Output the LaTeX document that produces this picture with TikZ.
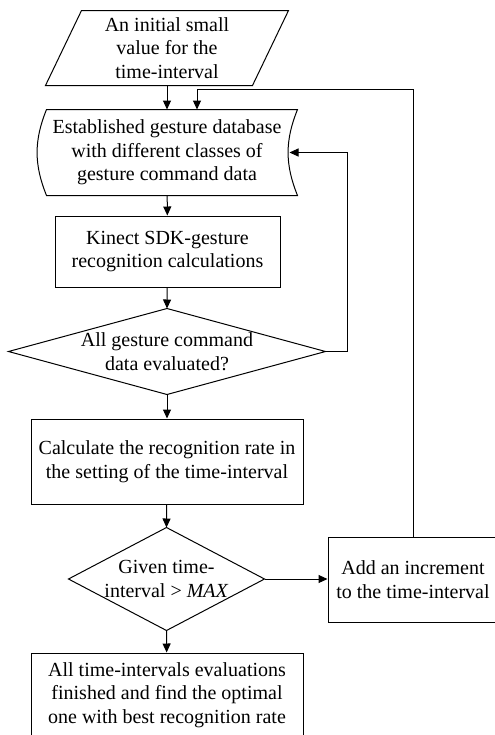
\documentclass[tikz,border=0pt]{standalone}
\usepackage{fontspec}
\setmainfont{Liberation Serif}
\usepackage{tikz}
\usetikzlibrary{arrows.meta,calc,shapes}
\tikzset{>={Triangle[length=4.5pt,width=4pt]}}
\tikzset{
  txt/.style={align=center, inner sep=0pt, font=\fontsize{10}{11.75}\selectfont},
  box/.style={txt, draw, rectangle},
}

\begin{document}
\begin{tikzpicture}[x=0.5pt, y=-0.5pt, line width=0.5pt]
    \useasboundingbox (0,0) rectangle (494,735);

    % input: parallelogram round a bare node
    \node at (167,48) [txt, minimum width=103pt, minimum height=37pt](init){An initial small\\value for the\\time-interval};
    \draw ([xshift=9pt]init.north west) -- ([xshift=9pt]init.north east) -- ([xshift=-9pt]init.south east) -- ([xshift=-9pt]init.south west) -- cycle;

    % stored data
    \node at (167,152.5) [txt, minimum width=125pt, minimum height=42.5pt](db){Established gesture database\\with different classes of\\gesture command data};
    \draw ([xshift=2.5pt]db.north west) -- ([xshift=2.5pt]db.north east) to[bend right=22] ([xshift=2.5pt]db.south east) -- ([xshift=2.5pt]db.south west) to[bend left=22] cycle;

    \node at (167.5,251.5) [box, minimum width=112.5pt, minimum height=35.5pt](kin){Kinect SDK-gesture\\recognition calculations};

    % decisions
    \node at (167,351.5) [txt, minimum width=158pt, minimum height=42.5pt](eval){All gesture command\\data evaluated?};
    \draw (eval.north) -- (eval.east) -- (eval.south) -- (eval.west) -- cycle;

    \node at (167,461.5) [box, minimum width=136pt, minimum height=42.5pt](calc){Calculate the recognition rate in\\the setting of the time-interval};

    \node at (166.5,579) [txt, minimum width=97.5pt, minimum height=51pt](cmp){Given time-\\interval > \textit{MAX}};
    \draw (cmp.north) -- (cmp.east) -- (cmp.south) -- (cmp.west) -- cycle;

    \node at (413,579.5) [box, minimum width=85pt, minimum height=42.5pt](add){Add an increment\\to the time-interval};

    \node at (167,695) [box, minimum width=136pt, minimum height=42pt](final){All time-intervals evaluations\\finished and find the optimal\\one with best recognition rate};

    % connectors
    \draw [->] (init) -- (db);
    \draw [->] (add.north) |- ([xshift=15pt,yshift=10pt]db.north) -- ([xshift=15pt]db.north);
    \draw [->] (db) -- (kin);
    \draw [->] (kin) -- (eval.north);
    \draw [->] (eval.east) --++ (11pt,0) |- ([xshift=-1.5pt]db.east);
    \draw [->] (eval.south) -- (calc);
    \draw [->] (calc) -- (cmp.north);
    \draw [->] (cmp.east) -- (cmp.east -| add.west);
    \draw [->] (cmp.south) -- (final);
\end{tikzpicture}
\end{document}
